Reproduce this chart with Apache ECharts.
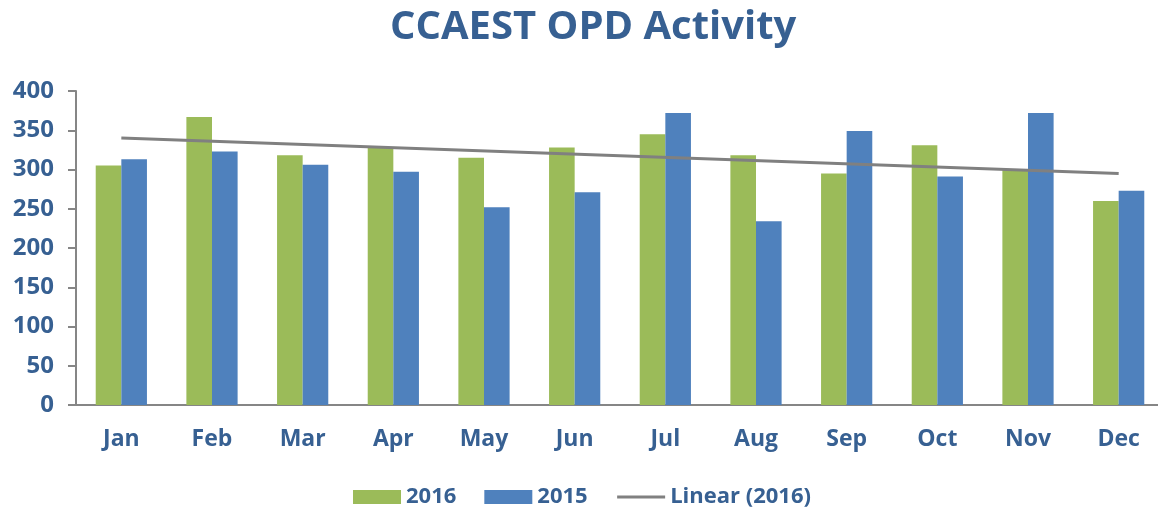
<!DOCTYPE html>
<html>
<head>
<meta charset="utf-8">
<script src="https://cdn.jsdelivr.net/npm/echarts@6/dist/echarts.min.js"></script>
<style>
  html, body { margin: 0; padding: 0; background: #ffffff; }
  #chart { width: 1158px; height: 512px; }
</style>
</head>
<body>
<div id="chart"></div>
<script>
// Monthly outpatient department visits
const months = ['Jan', 'Feb', 'Mar', 'Apr', 'May', 'Jun', 'Jul', 'Aug', 'Sep', 'Oct', 'Nov', 'Dec'];
const visits2016 = [305, 367, 318, 328, 315, 328, 345, 318, 295, 331, 300, 260];
const visits2015 = [313, 323, 306, 297, 252, 271, 372, 234, 349, 291, 372, 273];
// Linear trend of 2016: value at the first and last month
const trendStart = 340;
const trendEnd = 295;
const yTicks = { min: 0, max: 400, interval: 50 };

const trendData = months.map((m, i) =>
  i === 0 ? trendStart : (i === months.length - 1 ? trendEnd : null));

const textColor = '#376092';
const fontFamily = '"Open Sans", "Liberation Sans", sans-serif';

const chart = echarts.init(document.getElementById('chart'), null, { renderer: 'canvas' });
chart.setOption({
  animation: false,
  backgroundColor: '#ffffff',
  title: {
    text: 'CCAEST OPD Activity',
    left: 385,
    top: 3,
    textStyle: { color: textColor, fontFamily, fontWeight: 'bold', fontSize: 40 }
  },
  legend: {
    left: 348,
    top: 481,
    itemWidth: 48,
    itemHeight: 14,
    itemGap: 28,
    textStyle: { color: textColor, fontFamily, fontWeight: 'bold', fontSize: 22 },
    data: [
      { name: '2016', icon: 'rect' },
      { name: '2015', icon: 'rect' },
      { name: 'Linear (2016)', itemStyle: { opacity: 0 }, lineStyle: { color: '#808080', width: 3 } }
    ]
  },
  grid: {
    left: 76, width: 1088, top: 91, bottom: 107,
    containLabel: false,
    outerBoundsMode: 'none'
  },
  xAxis: {
    type: 'category',
    data: months,
    axisLine: { lineStyle: { color: '#868686', width: 2 } },
    axisTick: { show: false },
    axisLabel: { color: textColor, fontFamily, fontWeight: 'bold', fontSize: 23, margin: 23 }
  },
  yAxis: {
    type: 'value',
    min: yTicks.min,
    max: yTicks.max,
    interval: yTicks.interval,
    axisLine: { show: true, lineStyle: { color: '#868686', width: 2 } },
    axisTick: { show: true, length: 8, lineStyle: { color: '#868686', width: 2 } },
    splitLine: { show: false },
    axisLabel: { color: textColor, fontFamily, fontWeight: 'bold', fontSize: 24, margin: 22 }
  },
  series: [
    {
      name: '2016',
      type: 'bar',
      data: visits2016,
      barGap: '0%',
      barCategoryGap: '43.5%',
      itemStyle: { color: '#9BBB59' }
    },
    {
      name: '2015',
      type: 'bar',
      data: visits2015,
      itemStyle: { color: '#4F81BD' }
    },
    {
      name: 'Linear (2016)',
      type: 'line',
      data: trendData,
      connectNulls: true,
      symbol: 'none',
      lineStyle: { color: '#808080', width: 3 },
      itemStyle: { color: '#808080' },
      z: 5
    }
  ]
});
</script>
</body>
</html>
